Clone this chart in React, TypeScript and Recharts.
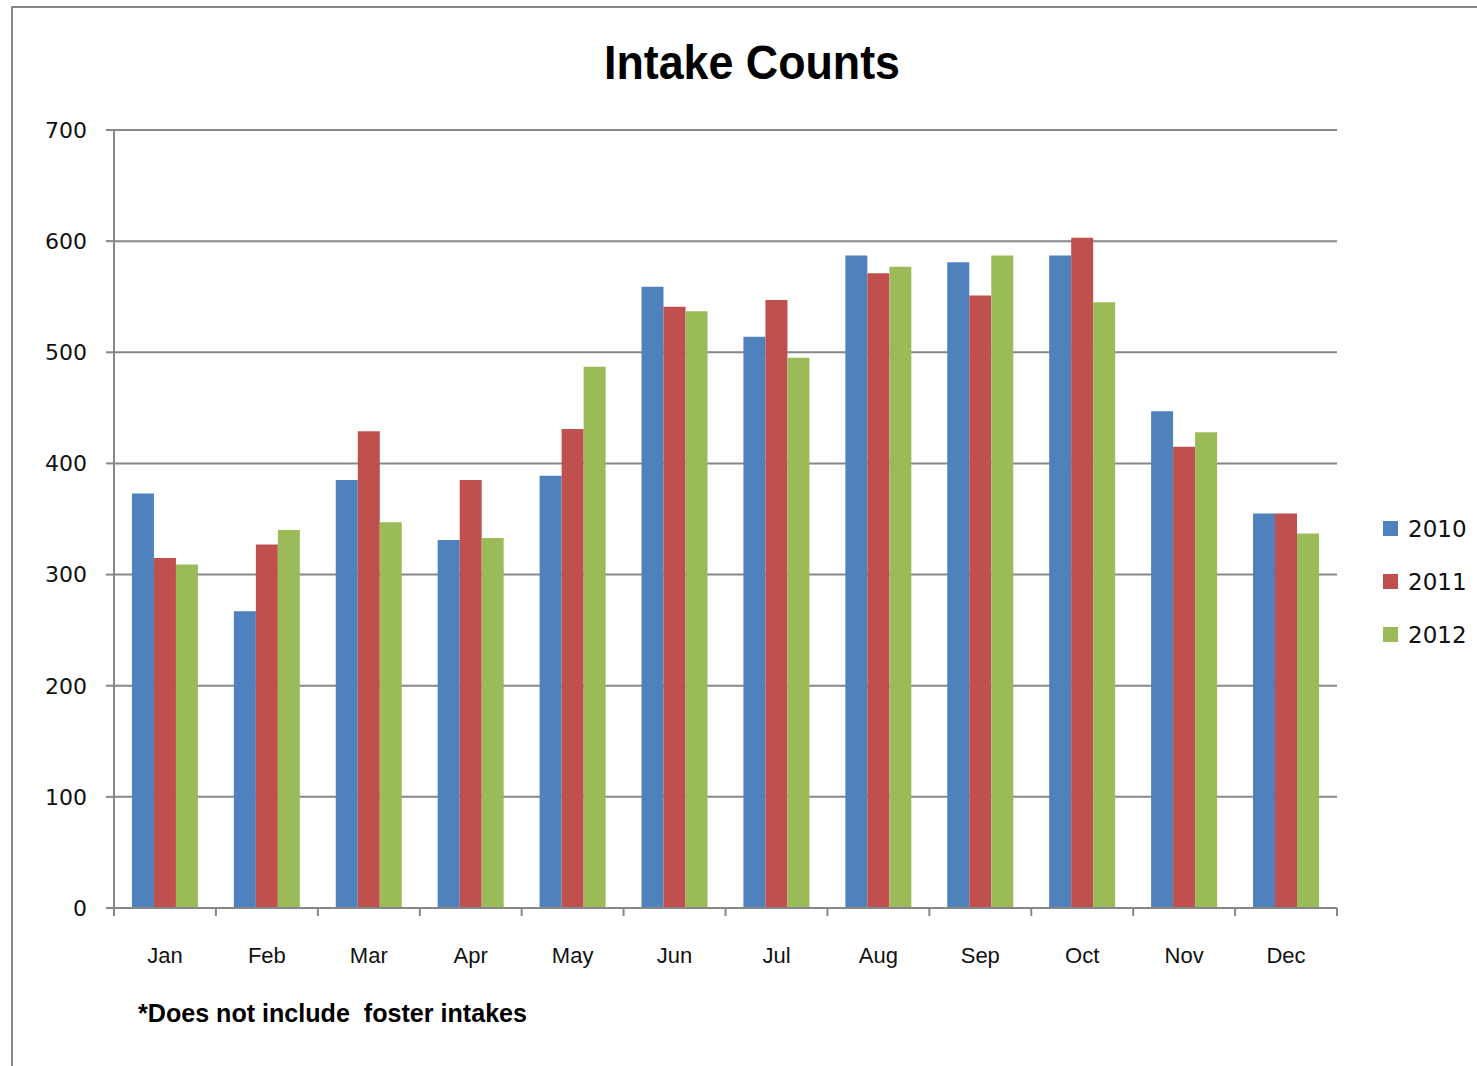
import React from 'react';
import { BarChart, Bar, XAxis, YAxis, CartesianGrid, Legend } from 'recharts';

const months = ['Jan', 'Feb', 'Mar', 'Apr', 'May', 'Jun', 'Jul', 'Aug', 'Sep', 'Oct', 'Nov', 'Dec'];
const intake2010 = [373, 267, 385, 331, 389, 559, 514, 587, 581, 587, 447, 355];
const intake2011 = [315, 327, 429, 385, 431, 541, 547, 571, 551, 603, 415, 355];
const intake2012 = [309, 340, 347, 333, 487, 537, 495, 577, 587, 545, 428, 337];
const yTicks = [0, 100, 200, 300, 400, 500, 600, 700];

const data = months.map((m, i) => ({
  month: m,
  y2010: intake2010[i],
  y2011: intake2011[i],
  y2012: intake2012[i],
}));

const GRAY = '#878787';

// month label + boundary tick marks (Excel puts the ticks between categories)
function MonthTick(props: any) {
  const { x, y, payload, index } = props;
  const half = payload && payload.offset ? payload.offset : 51;
  const last = index === months.length - 1;
  return (
    <g>
      <line x1={x - half} y1={y} x2={x - half} y2={y + 8} stroke={GRAY} strokeWidth={2} />
      {last && <line x1={x + half} y1={y} x2={x + half} y2={y + 8} stroke={GRAY} strokeWidth={2} />}
      <text
        x={x}
        y={y + 49}
        textAnchor="middle"
        dominantBaseline="middle"
        fill="#111"
        style={{ fontFamily: 'Liberation Sans, Arial, sans-serif', fontSize: 22 }}
      >
        {payload.value}
      </text>
    </g>
  );
}

function LegendBox({ payload }: any) {
  return (
    <div style={{ fontFamily: 'DejaVu Sans, sans-serif', fontSize: 23, color: '#111' }}>
      {(payload || []).map((entry: any) => (
        <div key={entry.value} style={{ display: 'flex', alignItems: 'center', height: 53 }}>
          <span style={{ display: 'inline-block', width: 15, height: 15, background: entry.color, marginRight: 10 }} />
          <span>{entry.value}</span>
        </div>
      ))}
    </div>
  );
}

export default function App() {
  return (
    <div style={{ position: 'absolute', left: 0, top: 0, width: 1477, height: 1066, background: '#fff', overflow: 'hidden' }}>
      <div
        style={{
          position: 'absolute',
          left: 11,
          top: 6,
          width: 1480,
          height: 1080,
          borderLeft: `2px solid ${GRAY}`,
          borderTop: `2px solid ${GRAY}`,
        }}
      />
      <BarChart
        width={1477}
        height={1066}
        data={data}
        margin={{ top: 130, right: 140, bottom: 98, left: 14 }}
        barCategoryGap="17.6%"
        barGap={0}
      >
        <CartesianGrid vertical={false} stroke={GRAY} strokeWidth={2} />
        <XAxis
          dataKey="month"
          axisLine={{ stroke: GRAY, strokeWidth: 2 }}
          tickLine={false}
          tickSize={0}
          tickMargin={0}
          height={60}
          tick={<MonthTick />}
          interval={0}
        />
        <YAxis
          domain={[0, 700]}
          ticks={yTicks}
          width={100}
          axisLine={{ stroke: GRAY, strokeWidth: 2 }}
          tickLine={{ stroke: GRAY, strokeWidth: 2 }}
          tickSize={8}
          tickMargin={19}
          tick={{ fill: '#111', fontFamily: 'DejaVu Sans, sans-serif', fontSize: 22 }}
        />
        <Legend
          layout="vertical"
          align="center"
          verticalAlign="middle"
          wrapperStyle={{ left: 1383, top: 502, width: 100 }}
          content={<LegendBox />}
        />
        <Bar dataKey="y2010" name="2010" fill="#4F81BD" isAnimationActive={false} />
        <Bar dataKey="y2011" name="2011" fill="#C0504D" isAnimationActive={false} />
        <Bar dataKey="y2012" name="2012" fill="#9BBB59" isAnimationActive={false} />
      </BarChart>
      <svg width={1477} height={1066} style={{ position: 'absolute', left: 0, top: 0, pointerEvents: 'none' }}>
        <text
          x={604}
          y={79}
          textLength={296}
          lengthAdjust="spacingAndGlyphs"
          fill="#000"
          style={{ fontFamily: 'Liberation Sans, Arial, sans-serif', fontSize: 49, fontWeight: 'bold' }}
        >
          Intake Counts
        </text>
        <text
          x={138}
          y={1022}
          textLength={389}
          lengthAdjust="spacingAndGlyphs"
          fill="#000"
          style={{ fontFamily: 'Liberation Sans, Arial, sans-serif', fontSize: 26, fontWeight: 'bold', whiteSpace: 'pre' }}
        >
          {'*Does not include  foster intakes'}
        </text>
      </svg>
    </div>
  );
}
